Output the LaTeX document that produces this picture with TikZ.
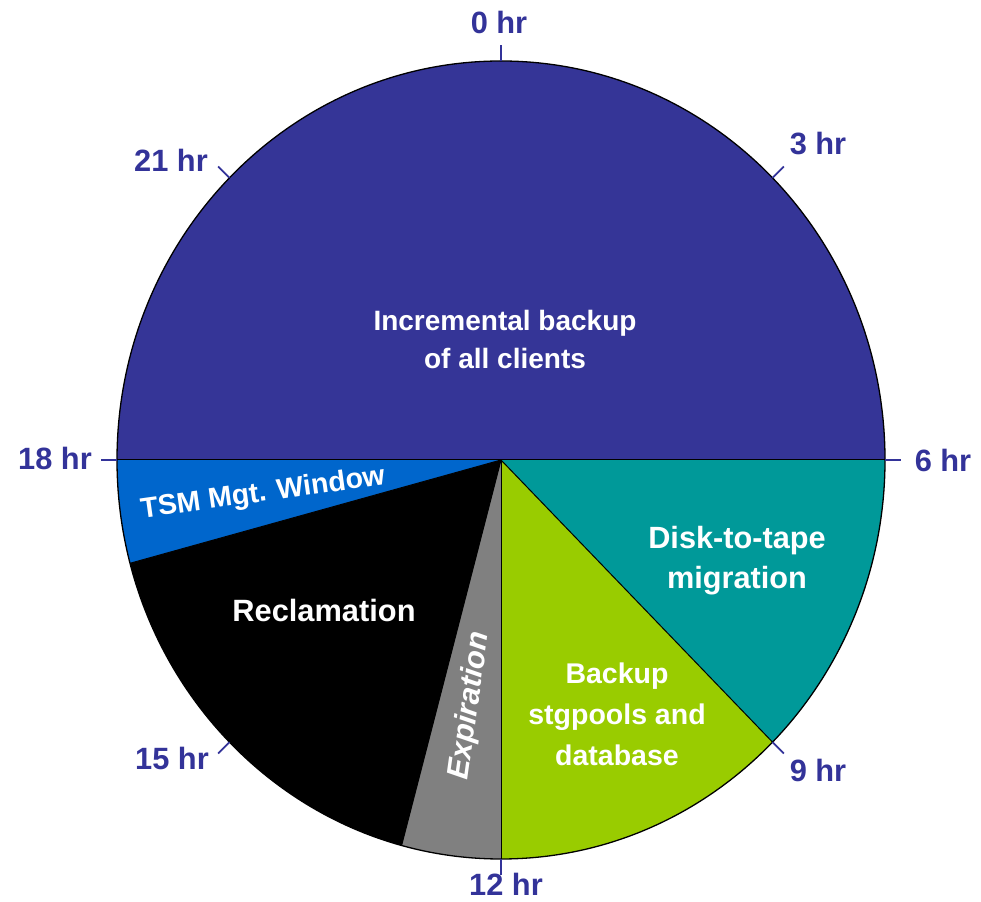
\documentclass[tikz,border=0pt]{standalone}
\usepackage{fontspec}
\setmainfont{Liberation Sans}
\definecolor{hrblue}{HTML}{333399}
\definecolor{incfill}{HTML}{353597}
\definecolor{teal}{HTML}{009999}
\definecolor{lime}{HTML}{99CC00}
\definecolor{expgray}{HTML}{808080}
\definecolor{tsmblue}{HTML}{0066CC}
\newcommand\pieslice[3]{%
  \fill[#3] (C) -- ++({\rx*cos(#1)},{\ry*sin(#1)})
    arc[start angle=#1, end angle=#2, x radius=\rx, y radius=\ry] -- cycle;}
\begin{document}
\begin{tikzpicture}[x=1pt, y=1pt,
  hourlabel/.style={text=hrblue, font=\fontsize{30.8}{36}\selectfont\bfseries, inner sep=0pt},
  slicelabel/.style={text=white, align=center, inner sep=0pt},
  tick/.style={draw=hrblue, line width=1.8pt},
  border/.style={draw=black, line width=1.3pt}]
\useasboundingbox (0,0) rectangle (981,901);
\coordinate (C) at (501,441);
\def\rx{384}\def\ry{399}

% slices, clockwise from 18 hr (one hour = 15 degrees)
\pieslice{180}{0}{incfill}
\pieslice{0}{-45}{teal}
\pieslice{-45}{-90}{lime}
\pieslice{-90}{-105}{expgray}
\pieslice{-105}{-165}{black}
\pieslice{-165}{-180}{tsmblue}

% slice borders and rim
\foreach \a in {180,0,-45,-90,-105,-165}
  \draw[border, line width=1pt] (C) -- ++({\rx*cos(\a)},{\ry*sin(\a)});
\draw[border] (C) ellipse[x radius=\rx, y radius=\ry];

% hour ticks
\foreach \h in {0,3,...,21}{
  \pgfmathsetmacro\a{90-15*\h}
  \draw[tick, shift={(C)}] ({\rx*cos(\a)},{\ry*sin(\a)}) -- ({(\rx+16)*cos(\a)},{(\ry+16)*sin(\a)});
}

% hour labels
\node[hourlabel] (h0)  at (499,878) {0 hr};
\node[hourlabel] (h3)  at (818,757) {3 hr};
\node[hourlabel] (h6)  at (943,441) {6 hr};
\node[hourlabel] (h9)  at (818,131) {9 hr};
\node[hourlabel] (h12) at (506,17)  {12 hr};
\node[hourlabel] (h15) at (172,143) {15 hr};
\node[hourlabel] (h18) at (55,443)  {18 hr};
\node[hourlabel] (h21) at (171,741) {21 hr};

% slice labels
\node[slicelabel, font=\fontsize{28}{38}\selectfont\bfseries] (inc) at (505,561)
  {Incremental backup\\of all clients};
\node[slicelabel, font=\fontsize{30.7}{40}\selectfont\bfseries] (mig) at (737,340)
  {Disk-to-tape\\migration};
\node[slicelabel, font=\fontsize{28.5}{41}\selectfont\bfseries] (bak) at (617,187)
  {Backup\\stgpools and\\database};
\node[slicelabel, font=\fontsize{30.8}{36}\selectfont\bfseries] (rec) at (324,291)
  {Reclamation};
\node[slicelabel, font=\fontsize{30.5}{34}\selectfont\bfseries\itshape, rotate=82] (exp) at (470,195)
  {Expiration};
\node[slicelabel, font=\fontsize{28.5}{34}\selectfont\bfseries, rotate=8] (tsm) at (263,407)
  {TSM Mgt. Window};
\end{tikzpicture}
\end{document}
